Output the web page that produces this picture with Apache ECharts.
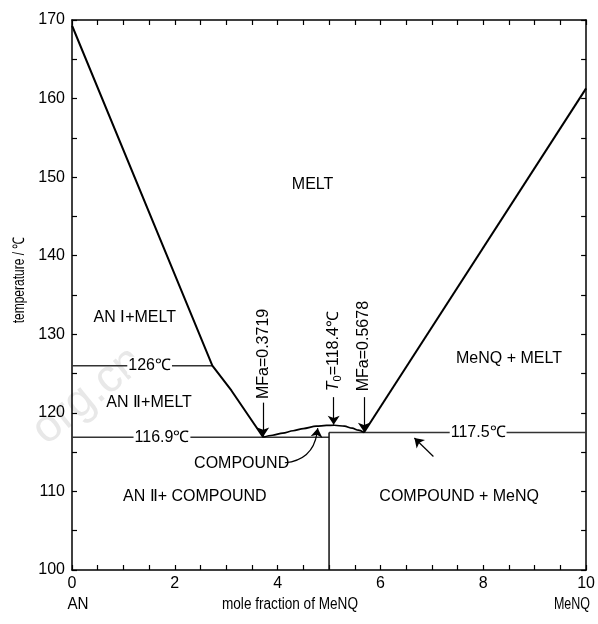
<!DOCTYPE html>
<html>
<head>
<meta charset="utf-8">
<script src="https://cdn.jsdelivr.net/npm/echarts@6.0.0/dist/echarts.min.js"></script>
<style>
  html, body { margin: 0; padding: 0; background: #fff; }
  #chart { width: 598px; height: 624px; }
</style>
</head>
<body>
<div id="chart"></div>
<script>
// phase boundaries, [mole fraction x10, temperature]
var leftLiquidus = [[0, 169.3], [2.73, 126], [3.1, 122.85], [3.719, 116.9]];
var rightLiquidus = [[5.678, 117.5], [10, 161.3]];
var compoundCurve = [[3.719, 116.9], [3.9, 117.15], [4.1, 117.42], [4.3, 117.72], [4.5, 118.0], [4.75, 118.3], [4.95, 118.4], [5.1, 118.42], [5.3, 118.3], [5.45, 118.05], [5.57, 117.8], [5.678, 117.5]];
var line126 = [[0, 126], [2.73, 126]];
var line1169 = [[0, 116.9], [5, 116.9]];
var line1175 = [[5, 117.5], [10, 117.5]];
var compoundEdge = [[5, 117.5], [5, 100]];

var xRange = [0, 10];
var yRange = [100, 170];

var FONT = '"Liberation Sans", Arial, sans-serif';

var chart = echarts.init(document.getElementById('chart'));

function boundary (data, width, color, smooth) {
  return {
    type: 'line',
    data: data,
    symbol: 'none',
    smooth: smooth || false,
    smoothMonotone: 'x',
    silent: true,
    lineStyle: { color: color, width: width }
  };
}

function arrowSeries (pairs) {
  var s = boundary([], 1, '#000');
  s.markLine = {
    silent: true,
    animation: false,
    symbol: ['none', 'arrow'],
    symbolSize: 9,
    label: { show: false },
    lineStyle: { color: '#000', width: 1.2, type: 'solid' },
    emphasis: { disabled: true },
    data: pairs.map(function (p) { return [{ coord: p[0] }, { coord: p[1] }]; })
  };
  return s;
}

function axisCommon (pos, showLabel, minorSplit) {
  return {
    type: 'value',
    position: pos,
    axisLine: { show: true, onZero: false, lineStyle: { color: '#000', width: 1.5 } },
    axisTick: { show: true, inside: true, length: 5, lineStyle: { color: '#000', width: 1.2 } },
    minorTick: { show: true, splitNumber: minorSplit, length: 5, lineStyle: { color: '#000', width: 1.2 } },
    splitLine: { show: false },
    axisLabel: { show: showLabel, color: '#000', fontSize: 16, fontFamily: FONT }
  };
}

var xBottom = axisCommon('bottom', true, 4);
xBottom.min = xRange[0]; xBottom.max = xRange[1]; xBottom.interval = 2;
xBottom.axisLabel.margin = 6;
var xTop = axisCommon('top', false, 4);
xTop.min = xRange[0]; xTop.max = xRange[1]; xTop.interval = 2;
var yLeft = axisCommon('left', true, 2);
yLeft.min = yRange[0]; yLeft.max = yRange[1]; yLeft.interval = 10;
yLeft.axisLabel.margin = 7;
var yRight = axisCommon('right', false, 2);
yRight.min = yRange[0]; yRight.max = yRange[1]; yRight.interval = 10;

chart.setOption({
  animation: false,
  backgroundColor: '#fff',
  grid: { left: 72, right: 11, top: 20, bottom: 54 },
  xAxis: [xBottom, xTop],
  yAxis: [yLeft, yRight],
  series: [
    boundary(line126, 1.5, '#333'),
    boundary(line1169, 1.5, '#333'),
    boundary(line1175, 1.5, '#333'),
    boundary(compoundEdge, 1.5, '#111'),
    boundary(leftLiquidus, 2, '#000'),
    boundary(rightLiquidus, 2, '#000'),
    boundary(compoundCurve, 1.7, '#000', 0.3),
    arrowSeries([
      [[3.719, 121.3], [3.719, 117.0]],
      [[5.09, 122.0], [5.09, 118.5]],
      [[5.678, 122.0], [5.678, 117.6]],
      [[7.03, 114.45], [6.66, 116.8]],
      [[4.765, 117.3], [4.78, 118.05]]
    ])
  ]
});

// annotation text, anchored in data space
var labels = [
  { text: 'MELT', at: [4.68, 149.0] },
  { text: 'AN Ⅰ+MELT', at: [1.22, 132.1] },
  { text: 'AN Ⅱ+MELT', at: [1.5, 121.3] },
  { text: 'AN Ⅱ+ COMPOUND', at: [2.39, 109.3] },
  { text: 'COMPOUND + MeNQ', at: [7.53, 109.3] },
  { text: 'MeNQ + MELT', at: [8.5, 126.85] },
  { text: 'COMPOUND', at: [3.3, 113.6] },
  { text: '126℃', at: [1.51, 126], bg: true },
  { text: '116.9℃', at: [1.75, 116.9], bg: true },
  { text: '117.5℃', at: [7.9, 117.5], bg: true }
];
var vlabels = [
  { text: 'MFa=0.3719', at: [3.719, 121.75] },
  { text: '{t|T}{s|0}=118.4℃', at: [5.09, 122.75] },
  { text: 'MFa=0.5678', at: [5.678, 122.75] }
];

var graphics = [];
// faint watermark from the source scan
graphics.push({
  type: 'text', x: 88, y: 396, rotation: 0.68, z: -1, silent: true,
  style: { text: 'org.cn', fill: '#e8e8e8', fontSize: 46, fontFamily: FONT, align: 'center', verticalAlign: 'middle' }
});
labels.forEach(function (l) {
  var p = chart.convertToPixel({ gridIndex: 0 }, l.at);
  graphics.push({
    type: 'text', x: p[0], y: p[1], z: 100,
    style: {
      text: l.text, fill: '#000', fontSize: 16, fontFamily: FONT,
      align: 'center', verticalAlign: 'middle',
      backgroundColor: l.bg ? '#fff' : null, padding: l.bg ? [1, 1] : 0
    }
  });
});
vlabels.forEach(function (l) {
  var p = chart.convertToPixel({ gridIndex: 0 }, l.at);
  graphics.push({
    type: 'text', x: p[0], y: p[1], rotation: Math.PI / 2, z: 100,
    style: {
      text: l.text, fill: '#000', fontSize: 16, fontFamily: FONT,
      align: 'left', verticalAlign: 'middle',
      rich: {
        t: { fontSize: 16, fontStyle: 'italic', fontFamily: FONT },
        s: { fontSize: 11, fontFamily: FONT, verticalAlign: 'bottom', padding: [8, 0, 0, 0] }
      }
    }
  });
});

// curved pointer from the COMPOUND label up to the compound curve
var c0 = chart.convertToPixel({ gridIndex: 0 }, [4.14, 113.65]);
var c1 = chart.convertToPixel({ gridIndex: 0 }, [4.68, 114.0]);
var c2 = chart.convertToPixel({ gridIndex: 0 }, [4.765, 117.4]);
graphics.push({
  type: 'bezierCurve', silent: true, z: 50,
  shape: { x1: c0[0], y1: c0[1], cpx1: c1[0], cpy1: c1[1], x2: c2[0], y2: c2[1] },
  style: { stroke: '#000', lineWidth: 1.2, fill: null }
});

// axis names and end-member labels
function nameText (text, x, y, size, sx, rot) {
  return {
    type: 'text', x: x, y: y, rotation: rot || 0, scaleX: sx,
    style: { text: text, fill: '#000', fontSize: size, fontFamily: FONT, align: 'center', verticalAlign: 'middle' }
  };
}
graphics.push(nameText('temperature / ℃', 20, 280, 16, 0.75, Math.PI / 2));
graphics.push(nameText('mole fraction of MeNQ', 290, 605, 16, 0.85));
graphics.push(nameText('AN', 78, 605, 16, 0.95));
graphics.push(nameText('MeNQ', 572, 605, 16, 0.78));

chart.setOption({ graphic: graphics });
</script>
</body>
</html>
